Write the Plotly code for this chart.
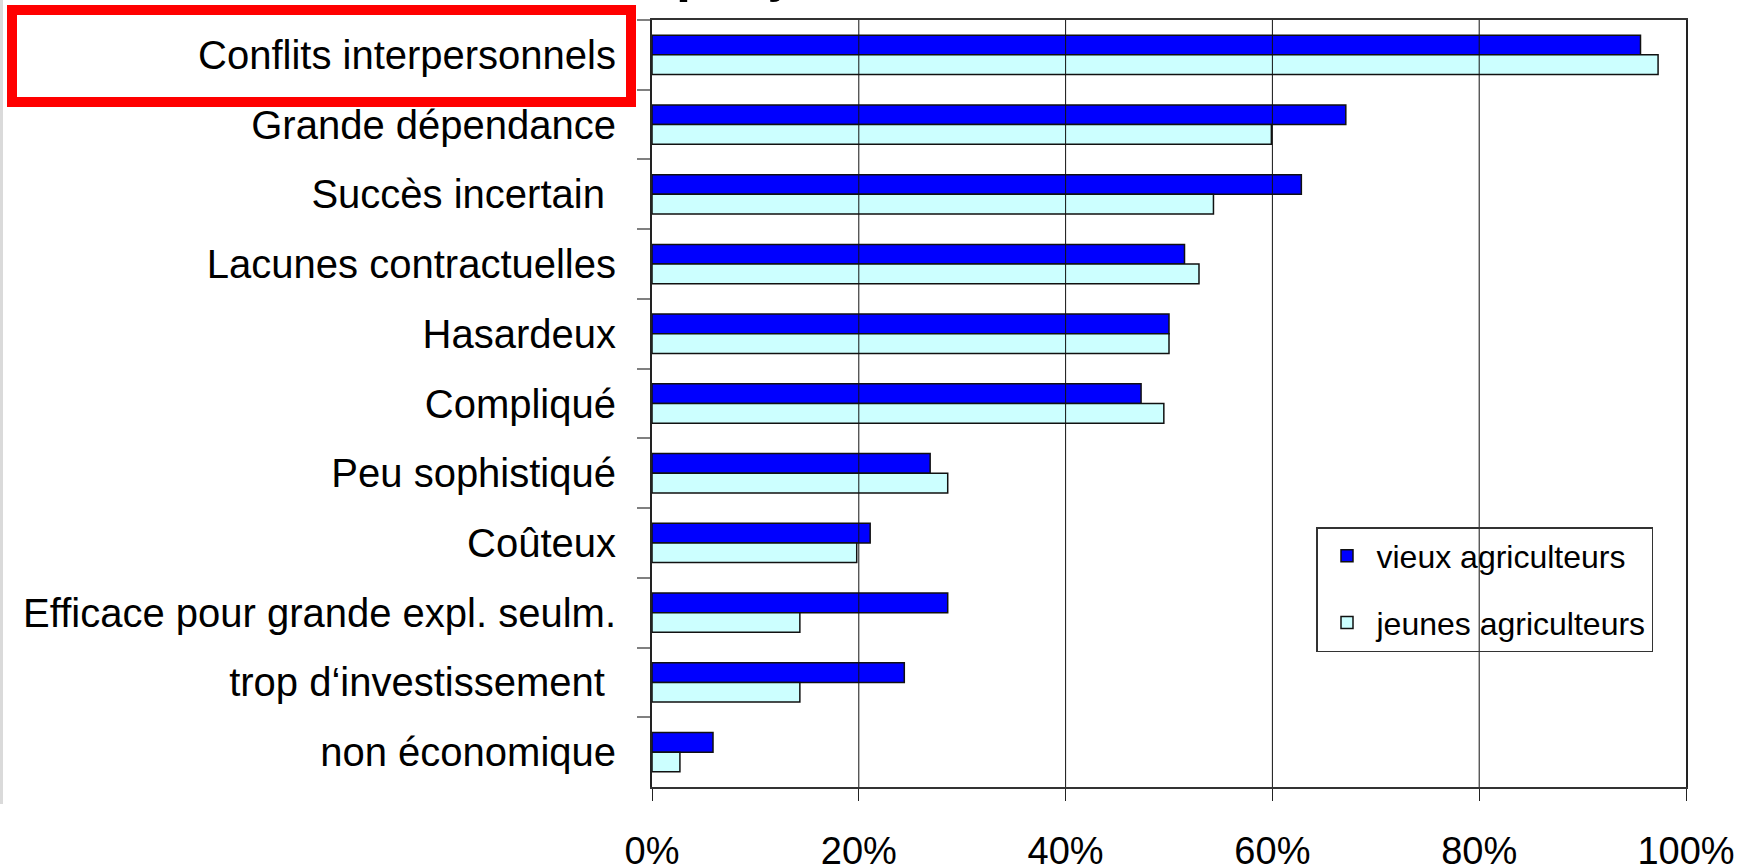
import plotly.graph_objects as go

categories = [
    "Conflits interpersonnels",
    "Grande dépendance",
    "Succès incertain\u00a0",
    "Lacunes contractuelles",
    "Hasardeux",
    "Compliqué",
    "Peu sophistiqué",
    "Coûteux",
    "Efficace pour grande expl. seulm.",
    "trop d\u2018investissement\u00a0",
    "non économique",
]
vieux = [0.956, 0.671, 0.628, 0.515, 0.500, 0.473, 0.269, 0.211, 0.286, 0.244, 0.059]
jeunes = [0.973, 0.599, 0.543, 0.529, 0.500, 0.495, 0.286, 0.198, 0.143, 0.143, 0.027]
series_names = ["vieux agriculteurs", "jeunes agriculteurs"]
x_ticks = [0, 0.2, 0.4, 0.6, 0.8, 1.0]
grid_vals = [0.2, 0.4, 0.6, 0.8]
title_text = "Inconvénients perçus"

W, H = 1747, 867
L, R, T, B = 652, 61, 20, 80
PW, PH = W - L - R, H - T - B

def px_x(p):
    return (p - L) / PW

def px_y(p):
    return (H - B - p) / PH

FONT = "Liberation Sans, Arial, sans-serif"

fig = go.Figure()
fig.add_trace(go.Bar(
    y=categories, x=vieux, name=series_names[0], orientation="h",
    marker=dict(color="#0000FF", line=dict(color="#111111", width=1.5)),
    legendgroup="a",
))
fig.add_trace(go.Bar(
    y=categories, x=jeunes, name=series_names[1], orientation="h",
    marker=dict(color="#CCFFFF", line=dict(color="#111111", width=1.5)),
    legendgroup="b",
))

shapes = []
for g in grid_vals:
    shapes.append(dict(type="line", xref="x", yref="paper", x0=g, x1=g, y0=0, y1=1,
                       line=dict(color="#111111", width=1), layer="above"))
# left page border
shapes.append(dict(type="line", xref="paper", yref="paper",
                   x0=px_x(1.5), x1=px_x(1.5), y0=px_y(804), y1=px_y(0),
                   line=dict(color="#DADADA", width=3)))
# red highlight rectangle
shapes.append(dict(type="rect", xref="paper", yref="paper",
                   x0=px_x(12), x1=px_x(631), y0=px_y(102), y1=px_y(10),
                   line=dict(color="#FF0000", width=10), fillcolor="rgba(0,0,0,0)",
                   layer="above"))

fig.update_layout(
    width=W, height=H,
    margin=dict(l=L, r=R, t=T, b=B, pad=0, autoexpand=False),
    paper_bgcolor="white", plot_bgcolor="white",
    barmode="group", bargap=0.436, bargroupgap=0,
    font=dict(family=FONT, color="black", size=38),
    showlegend=True,
    legend=dict(
        x=px_x(1316), y=px_y(527), xanchor="left", yanchor="top",
        bgcolor="rgba(0,0,0,0)", bordercolor="#333333", borderwidth=1.5,
        font=dict(family=FONT, size=32, color="black"),
        traceorder="grouped", tracegroupgap=22, itemwidth=49,
    ),
    shapes=shapes,
    annotations=[dict(
        text="<b>" + title_text + "</b>", xref="paper", yref="paper",
        x=px_x(296), y=px_y(-28), xanchor="left", yanchor="middle",
        showarrow=False, font=dict(family=FONT, size=54, color="black"),
    )],
)

fig.update_xaxes(
    range=[0, 1], tickvals=x_ticks, tickformat=".0%", automargin=False,
    showgrid=False, zeroline=False,
    showline=True, linecolor="#333333", linewidth=2, mirror=True,
    ticks="outside", ticklen=12, tickwidth=1, tickcolor="#222222",
    tickfont=dict(size=38, family=FONT), ticklabelstandoff=17,
)
fig.update_yaxes(
    type="category", autorange="reversed", automargin=False,
    tickson="boundaries", showgrid=False, zeroline=False,
    showline=True, linecolor="#222222", linewidth=2, mirror=True,
    ticks="outside", ticklen=13, tickwidth=2, tickcolor="#808080",
    tickfont=dict(size=40, family=FONT), ticklabelstandoff=26,
)

fig.write_html("out.html", config={"displayModeBar": False},
               post_script="document.body.style.margin='0';")
